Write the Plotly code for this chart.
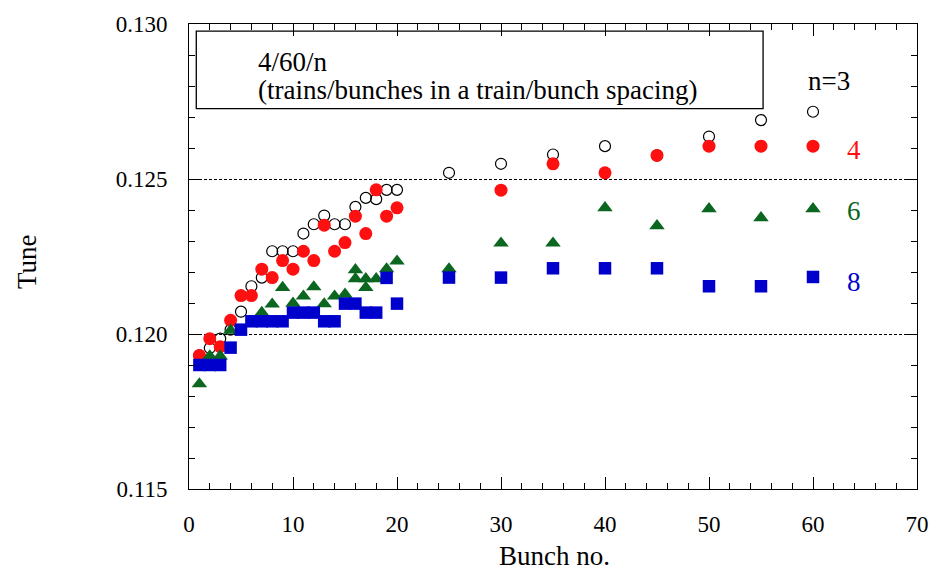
import plotly.graph_objects as go

# ---- data ----
x_n3 = [1, 2, 3, 4, 5, 6, 7, 8, 9, 10, 11, 12, 13, 14, 15, 16, 17, 18, 19, 20,
        25, 30, 35, 40, 45, 50, 55, 60]
y_n3 = [0.11931, 0.11955, 0.11985, 0.12014, 0.12072, 0.12154, 0.12182, 0.12267,
        0.12267, 0.12267, 0.12324, 0.12354, 0.12382, 0.12354, 0.12354, 0.12410,
        0.12439, 0.12435, 0.12465, 0.12465,
        0.12520, 0.12549, 0.12579, 0.12606, 0.12576, 0.12637, 0.12690, 0.12717]

x_n4 = [1, 2, 3, 4, 5, 6, 7, 8, 9, 10, 11, 12, 13, 14, 15, 16, 17, 18, 19, 20,
        30, 35, 40, 45, 50, 55, 60]
y_n4 = [0.11931, 0.11985, 0.11959, 0.12044, 0.12124, 0.12124, 0.12209, 0.12182,
        0.12237, 0.12209, 0.12267, 0.12237, 0.12351, 0.12267, 0.12295, 0.12380,
        0.12324, 0.12465, 0.12380, 0.12407,
        0.12464, 0.12549, 0.12520, 0.12576, 0.12606, 0.12606, 0.12606]

x_n6 = [1, 2, 3, 4, 7, 8, 9, 10, 11, 12, 13, 14, 15, 16, 16, 17, 17, 18, 19, 20,
        25, 30, 35, 40, 45, 50, 55, 60]
y_n6 = [0.11839, 0.11929, 0.11929, 0.12012, 0.12069, 0.12096, 0.12150, 0.12099,
        0.12122, 0.12152, 0.12097, 0.12122, 0.12128, 0.12207, 0.12178, 0.12178,
        0.12150, 0.12178, 0.12210, 0.12235,
        0.12210, 0.12293, 0.12293, 0.12407, 0.12349, 0.12404, 0.12375, 0.12404]

x_n8 = [1, 2, 3, 4, 5, 6, 7, 8, 9, 10, 11, 12, 13, 14, 15, 16, 17, 18, 19, 20,
        25, 30, 35, 40, 45, 50, 55, 60]
y_n8 = [0.11900, 0.11900, 0.11900, 0.11956, 0.12014, 0.12041, 0.12041, 0.12041,
        0.12041, 0.12069, 0.12069, 0.12069, 0.12041, 0.12041, 0.12098, 0.12098,
        0.12069, 0.12069, 0.12181, 0.12098,
        0.12182, 0.12182, 0.12212, 0.12212, 0.12212, 0.12154, 0.12154, 0.12184]

series_labels = ["n=3", "4", "6", "8"]
x_ticks = [0, 10, 20, 30, 40, 50, 60, 70]
y_ticks = [0.115, 0.120, 0.125, 0.130]
y_tick_text = ["0.115", "0.120", "0.125", "0.130"]

RED = "#ff1010"
GREEN = "#0b6620"
BLUE = "#0000cc"
FONT = "Liberation Serif, Times New Roman, serif"

fig = go.Figure()
fig.add_trace(go.Scatter(x=x_n3, y=y_n3, mode="markers", name="n=3",
                         marker=dict(symbol="circle-open", size=11, color="black",
                                     line=dict(width=1.2, color="black"))))
fig.add_trace(go.Scatter(x=x_n4, y=y_n4, mode="markers", name="4",
                         marker=dict(symbol="circle", size=13, color=RED,
                                     line=dict(width=0))))
fig.add_trace(go.Scatter(x=x_n6, y=y_n6, mode="markers", name="6",
                         marker=dict(symbol="triangle-up", size=13.5, color=GREEN,
                                     line=dict(width=0))))
fig.add_trace(go.Scatter(x=x_n8, y=y_n8, mode="markers", name="8",
                         marker=dict(symbol="square", size=12.5, color=BLUE,
                                     line=dict(width=0))))

fig.update_layout(
    width=941, height=571,
    margin=dict(l=189, r=15, t=16, b=82),
    paper_bgcolor="white", plot_bgcolor="white",
    showlegend=False,
    font=dict(family=FONT, color="black", size=23),
)

fig.update_xaxes(
    range=[0, 70], tickvals=x_ticks, ticktext=[str(v) for v in x_ticks],
    showgrid=False, zeroline=False,
    showline=True, linecolor="black", linewidth=1, mirror="ticks",
    ticks="inside", ticklen=12, tickwidth=1, tickcolor="black",
    minor=dict(dtick=2, ticks="inside", ticklen=6, tickwidth=1, tickcolor="black",
               showgrid=False),
    tickfont=dict(family=FONT, size=23), ticklabelstandoff=14,
)
fig.update_yaxes(
    range=[0.115, 0.130], tickvals=y_ticks, ticktext=y_tick_text,
    showgrid=True, gridcolor="black", gridwidth=1, griddash="3px,2px",
    zeroline=False,
    showline=True, linecolor="black", linewidth=1, mirror="ticks",
    ticks="inside", ticklen=12, tickwidth=1, tickcolor="black",
    minor=dict(dtick=0.001, tick0=0.115, ticks="inside", ticklen=6, tickwidth=1,
               tickcolor="black", showgrid=False),
    tickfont=dict(family=FONT, size=23), ticklabelstandoff=16,
)

# legend box
fig.add_shape(type="rect", xref="x", yref="y", x0=0.7, x1=55.2, y0=0.12727, y1=0.12977,
              line=dict(color="black", width=1.3), fillcolor="rgba(0,0,0,0)", layer="above")
fig.add_annotation(xref="x", yref="y", x=6.44, y=0.12879, text="4/60/n", showarrow=False,
                   xanchor="left", yanchor="middle", font=dict(family=FONT, size=27))
fig.add_annotation(xref="x", yref="y", x=6.44, y=0.12787,
                   text="(trains/bunches in a train/bunch spacing)", showarrow=False,
                   xanchor="left", yanchor="middle", font=dict(family=FONT, size=27))

# series labels
label_pos = [(61.5, 0.12815, "black"), (63.9, 0.12592, RED),
             (63.9, 0.12396, GREEN), (63.9, 0.12168, BLUE)]
for lab, (lx, ly, col) in zip(series_labels, label_pos):
    fig.add_annotation(xref="x", yref="y", x=lx, y=ly, text=lab, showarrow=False,
                       xanchor="center", yanchor="middle",
                       font=dict(family=FONT, size=27, color=col))

# axis titles
fig.add_annotation(xref="paper", yref="paper", x=-0.2225, y=0.488, text="Tune",
                   showarrow=False, textangle=-90, xanchor="center", yanchor="middle",
                   font=dict(family=FONT, size=27))
fig.add_annotation(xref="paper", yref="paper", x=0.5027, y=-0.1438, text="Bunch no.",
                   showarrow=False, xanchor="center", yanchor="middle",
                   font=dict(family=FONT, size=27))

fig.write_html("out.html")
